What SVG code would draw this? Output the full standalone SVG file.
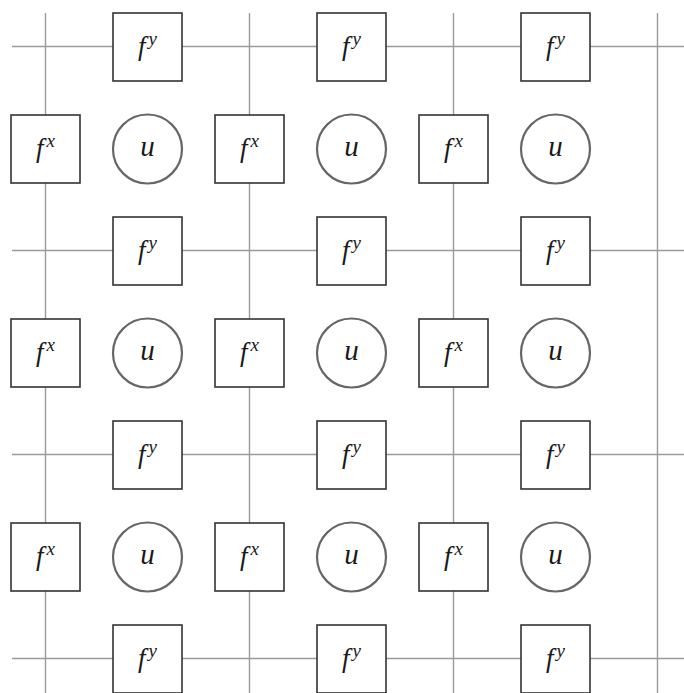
<svg xmlns="http://www.w3.org/2000/svg" width="684" height="693" viewBox="0 0 684 693">
<defs>
<style>
.g{stroke:#9a9a9a;stroke-width:1.4;fill:none}
.b{fill:#fff;stroke:#333;stroke-width:1.6}
.c{fill:#fff;stroke:#666;stroke-width:2.2}
.t{font-family:"Liberation Serif","DejaVu Serif",serif;font-style:italic;font-size:27px;fill:#1a1a1a;text-anchor:middle}
.s{font-size:19px}
.u{font-size:29px}
</style>
<rect id="fy" x="-34.5" y="-34" width="69" height="68" class="b"/>
<circle id="uc" r="34.5" class="c"/>
</defs>
<rect width="684" height="693" fill="#fff"/>
<g id="connectors">
<path class="g" d="M45.5 13V693M249.5 13V693M453.5 13V693M657.5 13V693"/>
<path class="g" d="M12 46.5H684M12 250.5H684M12 454.5H684M12 658.5H684"/>
</g>
<g id="fy_0_0" transform="translate(147.5 47)"><use href="#fy"/><text class="t" y="8">f<tspan class="s" dx="3" dy="-10">y</tspan></text></g>
<g id="fy_1_0" transform="translate(351.5 47)"><use href="#fy"/><text class="t" y="8">f<tspan class="s" dx="3" dy="-10">y</tspan></text></g>
<g id="fy_2_0" transform="translate(555.5 47)"><use href="#fy"/><text class="t" y="8">f<tspan class="s" dx="3" dy="-10">y</tspan></text></g>
<g id="fy_0_1" transform="translate(147.5 251)"><use href="#fy"/><text class="t" y="8">f<tspan class="s" dx="3" dy="-10">y</tspan></text></g>
<g id="fy_1_1" transform="translate(351.5 251)"><use href="#fy"/><text class="t" y="8">f<tspan class="s" dx="3" dy="-10">y</tspan></text></g>
<g id="fy_2_1" transform="translate(555.5 251)"><use href="#fy"/><text class="t" y="8">f<tspan class="s" dx="3" dy="-10">y</tspan></text></g>
<g id="fy_0_2" transform="translate(147.5 455)"><use href="#fy"/><text class="t" y="8">f<tspan class="s" dx="3" dy="-10">y</tspan></text></g>
<g id="fy_1_2" transform="translate(351.5 455)"><use href="#fy"/><text class="t" y="8">f<tspan class="s" dx="3" dy="-10">y</tspan></text></g>
<g id="fy_2_2" transform="translate(555.5 455)"><use href="#fy"/><text class="t" y="8">f<tspan class="s" dx="3" dy="-10">y</tspan></text></g>
<g id="fy_0_3" transform="translate(147.5 659)"><use href="#fy"/><text class="t" y="8">f<tspan class="s" dx="3" dy="-10">y</tspan></text></g>
<g id="fy_1_3" transform="translate(351.5 659)"><use href="#fy"/><text class="t" y="8">f<tspan class="s" dx="3" dy="-10">y</tspan></text></g>
<g id="fy_2_3" transform="translate(555.5 659)"><use href="#fy"/><text class="t" y="8">f<tspan class="s" dx="3" dy="-10">y</tspan></text></g>
<g id="fx_0_0" transform="translate(45.5 149)"><use href="#fy"/><text class="t" y="8">f<tspan class="s" dx="3" dy="-10">x</tspan></text></g>
<g id="fx_1_0" transform="translate(249.5 149)"><use href="#fy"/><text class="t" y="8">f<tspan class="s" dx="3" dy="-10">x</tspan></text></g>
<g id="fx_2_0" transform="translate(453.5 149)"><use href="#fy"/><text class="t" y="8">f<tspan class="s" dx="3" dy="-10">x</tspan></text></g>
<g id="fx_0_1" transform="translate(45.5 353)"><use href="#fy"/><text class="t" y="8">f<tspan class="s" dx="3" dy="-10">x</tspan></text></g>
<g id="fx_1_1" transform="translate(249.5 353)"><use href="#fy"/><text class="t" y="8">f<tspan class="s" dx="3" dy="-10">x</tspan></text></g>
<g id="fx_2_1" transform="translate(453.5 353)"><use href="#fy"/><text class="t" y="8">f<tspan class="s" dx="3" dy="-10">x</tspan></text></g>
<g id="fx_0_2" transform="translate(45.5 557)"><use href="#fy"/><text class="t" y="8">f<tspan class="s" dx="3" dy="-10">x</tspan></text></g>
<g id="fx_1_2" transform="translate(249.5 557)"><use href="#fy"/><text class="t" y="8">f<tspan class="s" dx="3" dy="-10">x</tspan></text></g>
<g id="fx_2_2" transform="translate(453.5 557)"><use href="#fy"/><text class="t" y="8">f<tspan class="s" dx="3" dy="-10">x</tspan></text></g>
<g id="u_0_0" transform="translate(147.5 149)"><use href="#uc"/><text class="t u" y="7">u</text></g>
<g id="u_1_0" transform="translate(351.5 149)"><use href="#uc"/><text class="t u" y="7">u</text></g>
<g id="u_2_0" transform="translate(555.5 149)"><use href="#uc"/><text class="t u" y="7">u</text></g>
<g id="u_0_1" transform="translate(147.5 353)"><use href="#uc"/><text class="t u" y="7">u</text></g>
<g id="u_1_1" transform="translate(351.5 353)"><use href="#uc"/><text class="t u" y="7">u</text></g>
<g id="u_2_1" transform="translate(555.5 353)"><use href="#uc"/><text class="t u" y="7">u</text></g>
<g id="u_0_2" transform="translate(147.5 557)"><use href="#uc"/><text class="t u" y="7">u</text></g>
<g id="u_1_2" transform="translate(351.5 557)"><use href="#uc"/><text class="t u" y="7">u</text></g>
<g id="u_2_2" transform="translate(555.5 557)"><use href="#uc"/><text class="t u" y="7">u</text></g>
</svg>
